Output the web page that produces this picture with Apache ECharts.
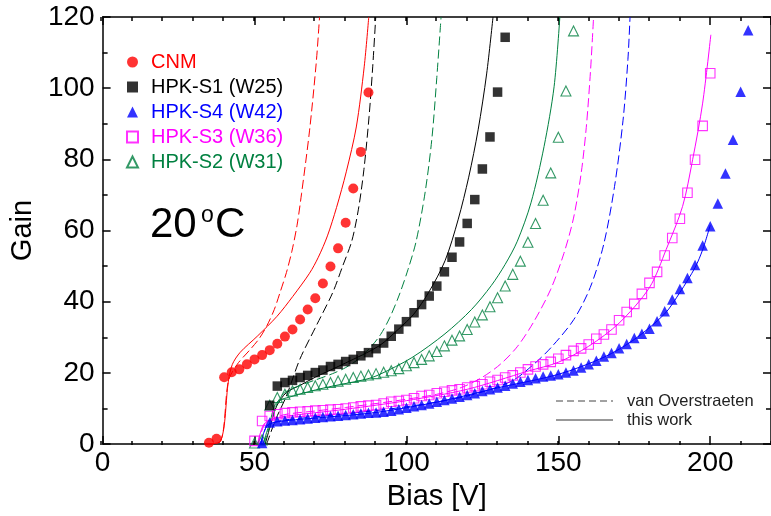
<!DOCTYPE html>
<html>
<head>
<meta charset="utf-8">
<script src="https://cdn.jsdelivr.net/npm/echarts@6/dist/echarts.min.js"></script>
<style>html,body{margin:0;padding:0;background:#fff;}#c{width:771px;height:516px;}</style>
</head>
<body>
<div id="c"></div>
<script>
// ---------- data ----------
const xTicks = [0, 50, 100, 150, 200];
const yTicks = [0, 20, 40, 60, 80, 100, 120];

const cnmBias = [35,37.5,40,42.5,45,47.5,50,52.5,55,57.5,60,62.5,65,67.5,70,72.5,75,77.5,80,82.5,85,87.5];
const cnmGain = [0.4,1.5,18.8,20.2,21.0,22.4,23.8,25.0,26.4,28.2,30.2,32.2,35.0,37.8,41.0,45.1,49.9,55.0,62.2,71.8,82.1,98.8];

const s1Bias = [55,57.5,60,62.5,65,67.5,70,72.5,75,77.5,80,82.5,85,87.5,90,92.5,95,97.5,100,102.5,105,107.5,110,112.5,115,117.5,120,122.5,125,127.5,130,132.5];
const s1Gain = [10.9,16.3,17.3,17.9,18.7,19.3,20.1,20.8,21.8,22.4,23.2,23.8,24.8,25.7,26.8,28.4,30.3,32.3,34.4,36.9,39.2,41.6,44.4,48.4,52.5,56.8,62.0,68.7,77.3,86.3,98.9,114.3];

const s4Bias = [52.5,55,57.5,60,62.5,65,67.5,70,72.5,75,77.5,80,82.5,85,87.5,90,92.5,95,97.5,100,102.5,105,107.5,110,112.5,115,117.5,120,122.5,125,127.5,130,132.5,135,137.5,140,142.5,145,147.5,150,152.5,155,157.5,160,162.5,165,167.5,170,172.5,175,177.5,180,182.5,185,187.5,190,192.5,195,197.5,200,202.5,205,207.5,210,212.5];
const s4Gain = [0.3,6.1,6.4,6.6,6.8,7.0,7.2,7.4,7.6,7.8,8.0,8.2,8.4,8.6,8.8,8.9,9.1,9.4,9.8,10.2,10.6,11.0,11.4,11.9,12.4,12.8,13.3,13.8,14.3,14.9,15.4,15.9,16.4,17.0,17.5,18.0,18.5,19.0,19.3,19.6,20.1,20.7,21.5,22.4,23.4,24.6,25.6,26.9,28.1,29.8,31.0,32.4,34.5,37.3,40.6,43.6,46.7,50.3,55.8,61.2,67.6,76.0,85.5,99.0,116.3];

const s3Bias = [50,52.5,55,57.5,60,62.5,65,67.5,70,72.5,75,77.5,80,82.5,85,87.5,90,92.5,95,97.5,100,102.5,105,107.5,110,112.5,115,117.5,120,122.5,125,127.5,130,132.5,135,137.5,140,142.5,145,147.5,150,152.5,155,157.5,160,162.5,165,167.5,170,172.5,175,177.5,180,182.5,185,187.5,190,192.5,195,197.5,200];
const s3Gain = [0.9,6.5,7.9,8.4,8.7,8.9,9.1,9.2,9.4,9.5,9.7,9.8,10.0,10.3,10.6,10.8,11.0,11.4,11.9,12.1,12.4,12.9,13.5,13.8,14.3,14.7,15.1,15.4,15.9,16.3,16.8,17.5,18.0,18.7,19.3,20.1,21.0,21.8,22.4,23.1,24.0,25.0,26.2,26.9,28.0,29.6,30.8,32.2,34.8,37.1,39.4,42.2,45.3,48.4,53.0,57.9,63.3,70.6,79.9,89.4,104.2];

const s2Bias = [50,52.5,55,57.5,60,62.5,65,67.5,70,72.5,75,77.5,80,82.5,85,87.5,90,92.5,95,97.5,100,102.5,105,107.5,110,112.5,115,117.5,120,122.5,125,127.5,130,132.5,135,137.5,140,142.5,145,147.5,150,152.5,155];
const s2Gain = [0.3,1.2,10.9,13.1,14.0,14.9,15.4,15.9,16.4,16.8,17.3,17.7,18.2,18.7,19.1,19.4,19.8,20.2,20.6,21.2,22.0,22.9,23.8,24.8,26.0,27.6,29.2,30.4,32.2,34.3,36.3,38.6,41.1,44.4,47.7,51.4,56.7,62.0,68.5,76.2,86.2,99.2,116.1];

// model curves: "this work" (solid) and "van Overstraeten" (dashed), [bias, gain]
const cnmThisWork = [[34,0],[38.8,0.8],[41.4,17.7],[42.7,22.4],[45.3,25.8],[50.9,30.3],[57.4,35.9],[62.6,41.5],[68.1,48.0],[71,52.5],[74,58.5],[77,66.5],[80.2,76.5],[83.5,89.1],[86.1,106],[87.6,120]];
const cnmVanOver  = [[34,0],[38.8,0.8],[41.4,17.7],[44.3,22.4],[48.6,26.6],[51.5,29.6],[54.1,33.3],[56.5,37.8],[58.4,42.6],[60.5,48.2],[62.3,54.2],[64,61.5],[65.5,70.5],[68.1,88],[70.3,107],[71.4,120]];
const s1ThisWork  = [[53.5,0],[55.5,6],[57.3,10.7],[60.5,14.5],[65,16.5],[70,18.8],[80,22.8],[91,27.6],[97.5,32.4],[102.4,36.5],[107.3,42.6],[112.7,51.5],[117,63],[120.5,75],[123.6,88.3],[126.4,104],[128.5,120]];
const s1VanOver   = [[54,0],[57,7],[60.5,13.5],[64.9,23.8],[70.3,33.2],[75.7,42.5],[79,50],[82,57],[84.2,66],[86,77.1],[87.7,92],[88.9,106],[89.9,120]];
const s2ThisWork  = [[52.8,0],[55,6],[57.3,11.7],[62.7,13.5],[70,15.2],[75.7,16.3],[86.6,18.2],[91,19.5],[101.8,24.3],[112.7,31],[121.4,37.8],[127.9,44.5],[132.5,50.5],[136.5,57],[141,67.8],[145.3,83.6],[148.6,100.4],[150.5,120]];
const s2VanOver   = [[53,0],[55,5],[57.5,11.5],[60,14.5],[65,16.5],[70,18],[75.7,19.8],[80,21.5],[84.4,24],[88,27],[91.5,30.8],[94.5,35.5],[97.5,41.6],[100.5,49],[103.2,57],[106.2,71],[108.4,86],[110,103],[111.4,120]];
const s3ThisWork  = [[51,0],[53,5.5],[56,7],[60,7.8],[80,9.8],[100,12.2],[120,15.4],[140,20.5],[150,23],[160,27.5],[170,34],[180,44],[185.5,54.7],[190.9,66.8],[194.2,79.9],[197.5,95.8],[200.2,115]];
const s3VanOver   = [[51,0],[53,5],[55,6.8],[60,8.3],[70,9.3],[80,10.3],[90,11.4],[100,12.6],[110,14],[118.1,15.9],[125,18.8],[131,22.5],[136.6,27.5],[142,34.5],[147.5,43.5],[151.8,53.5],[155,63.5],[157.5,76],[159.2,89],[160.6,105],[161.6,120]];
const s4ThisWork  = [[52,0],[54,5],[57,6.2],[70,7.3],[90,8.9],[110,11.8],[130,15.8],[150,19.6],[165,24.4],[175,29.4],[185,36.6],[190,42.6],[195,49.6],[197.5,54.6],[200,61.5]];
const s4VanOver   = [[52,0],[54,5],[57,6.2],[60,6.8],[80,8.5],[100,10.5],[120,13.5],[134.4,17.6],[142,22.5],[148,27.5],[155.1,35],[160.5,44],[164.9,56],[168.5,72.4],[171.3,91],[172.9,108],[173.6,120]];

const seriesNames = ['CNM','HPK-S1 (W25)','HPK-S4 (W42)','HPK-S3 (W36)','HPK-S2 (W31)'];
const seriesColors = ['#ff0000','#000000','#0000ff','#ff00ff','#008040'];
const legend2Labels = ['van Overstraeten','this work'];
const tempLabel = ['20','o','C'];

// ---------- chart ----------
const FONT = 'Liberation Sans, Arial, sans-serif';
const zip = (a, b) => a.map((v, i) => [v, b[i]]);
const chart = echarts.init(document.getElementById('c'), null, {renderer: 'canvas'});

function lineSeries(data, color, dashed) {
  return {
    type: 'line', xAxisIndex: 0, yAxisIndex: 0, data: data,
    showSymbol: false, symbol: 'none', smooth: 0.3,
    lineStyle: {color: color, width: 1, type: dashed ? [9, 4] : 'solid'},
    silent: true, z: 2, legendHoverLink: false
  };
}
function scatterSeries(name, bias, gain, symbol, size, color, hollow) {
  return {
    name: name, type: 'scatter', xAxisIndex: 0, yAxisIndex: 0,
    data: zip(bias, gain), symbol: symbol, symbolSize: size,
    itemStyle: hollow ? {color: 'rgba(255,255,255,0)', borderColor: color, borderWidth: 1.1}
                      : {color: color, borderWidth: 0},
    silent: true, z: 3
  };
}

const axisLineStyle = {color: '#000', width: 1.5};
const majorX = {
  type: 'value', gridIndex: 0, min: 0, max: 220, interval: 50,
  axisLine: {show: true, onZero: false, lineStyle: axisLineStyle},
  axisTick: {show: true, inside: true, length: 8, lineStyle: {color: '#000', width: 1.5}},
  splitLine: {show: false}
};
const minorX = {
  type: 'value', gridIndex: 1, min: 0, max: 220, interval: 10,
  axisLine: {show: false, onZero: false},
  axisTick: {show: true, inside: true, length: 4, lineStyle: {color: '#000', width: 1.5}},
  axisLabel: {show: false}, splitLine: {show: false}
};
const yBase = {
  type: 'value', gridIndex: 0, min: 0, max: 120, interval: 20,
  axisLine: {show: true, onZero: false, lineStyle: axisLineStyle},
  axisTick: {show: true, inside: true, length: 8, lineStyle: {color: '#000', width: 1.5}},
  minorTick: {show: true, splitNumber: 2, length: 5, lineStyle: {color: '#000', width: 1.5}},
  splitLine: {show: false}, minorSplitLine: {show: false}
};

const gridRect = {left: 101, top: 17, right: -5, bottom: 71};

const option = {
  animation: false,
  backgroundColor: '#ffffff',
  textStyle: {fontFamily: FONT},
  grid: [Object.assign({}, gridRect), Object.assign({}, gridRect)],
  xAxis: [
    Object.assign({}, majorX, {
      position: 'bottom',
      axisLabel: {show: true, fontSize: 28, color: '#000', margin: 5, fontFamily: FONT, showMaxLabel: false,
        formatter: v => (xTicks.indexOf(v) >= 0 ? String(v) : '')},
      name: 'Bias [V]', nameLocation: 'middle', nameGap: 34,
      nameTextStyle: {fontSize: 29, color: '#000', fontFamily: FONT}
    }),
    Object.assign({}, majorX, {position: 'top', axisLabel: {show: false}}),
    Object.assign({}, minorX, {position: 'bottom'}),
    Object.assign({}, minorX, {position: 'top'})
  ],
  yAxis: [
    Object.assign({}, yBase, {
      position: 'left',
      axisLabel: {show: true, fontSize: 28, color: '#000', margin: 8, fontFamily: FONT,
        formatter: v => (yTicks.indexOf(v) >= 0 ? String(v) : '')},
      name: 'Gain', nameLocation: 'middle', nameGap: 64,
      nameTextStyle: {fontSize: 29, color: '#000', fontFamily: FONT}
    }),
    Object.assign({}, yBase, {position: 'right', axisLabel: {show: false}}),
    {type: 'value', gridIndex: 1, min: 0, max: 120, show: false}
  ],
  legend: {
    orient: 'vertical', left: 121, top: 47, itemWidth: 11, itemHeight: 11, itemGap: 5,
    selectedMode: false,
    textStyle: {fontSize: 20, fontFamily: FONT, padding: [0, 0, 0, 8]},
    data: seriesNames.map((n, i) => ({name: n, textStyle: {color: seriesColors[i]}}))
  },
  series: [
    lineSeries(cnmVanOver, seriesColors[0], true),
    lineSeries(cnmThisWork, seriesColors[0], false),
    lineSeries(s1VanOver, seriesColors[1], true),
    lineSeries(s1ThisWork, seriesColors[1], false),
    lineSeries(s2VanOver, seriesColors[4], true),
    lineSeries(s2ThisWork, seriesColors[4], false),
    lineSeries(s3VanOver, seriesColors[3], true),
    lineSeries(s3ThisWork, seriesColors[3], false),
    lineSeries(s4VanOver, seriesColors[2], true),
    lineSeries(s4ThisWork, seriesColors[2], false),
    scatterSeries(seriesNames[4], s2Bias, s2Gain, 'triangle', 10, seriesColors[4], true),
    scatterSeries(seriesNames[3], s3Bias, s3Gain, 'rect', 9.5, seriesColors[3], true),
    scatterSeries(seriesNames[2], s4Bias, s4Gain, 'triangle', 10.5, seriesColors[2], false),
    scatterSeries(seriesNames[1], s1Bias, s1Gain, 'rect', 9.5, seriesColors[1], false),
    scatterSeries(seriesNames[0], cnmBias, cnmGain, 'circle', 10, seriesColors[0], false)
  ],
  graphic: [
    {type: 'text', left: 150, top: 204, style: {text: tempLabel[0], font: '42px ' + FONT, fill: '#000'}, silent: true},
    {type: 'text', left: 201, top: 204, style: {text: tempLabel[1], font: '23px ' + FONT, fill: '#000'}, silent: true},
    {type: 'text', left: 215, top: 204, style: {text: tempLabel[2], font: '42px ' + FONT, fill: '#000'}, silent: true},
    {type: 'line', shape: {x1: 556, y1: 401, x2: 613, y2: 401}, style: {stroke: '#444', lineWidth: 1, lineDash: [7, 4]}, silent: true},
    {type: 'line', shape: {x1: 556, y1: 420, x2: 613, y2: 420}, style: {stroke: '#333', lineWidth: 1}, silent: true},
    {type: 'text', left: 627, top: 393, style: {text: legend2Labels[0], font: '16.5px ' + FONT, fill: '#222'}, silent: true},
    {type: 'text', left: 627, top: 412, style: {text: legend2Labels[1], font: '16.5px ' + FONT, fill: '#222'}, silent: true}
  ]
};
chart.setOption(option);
</script>
</body>
</html>
